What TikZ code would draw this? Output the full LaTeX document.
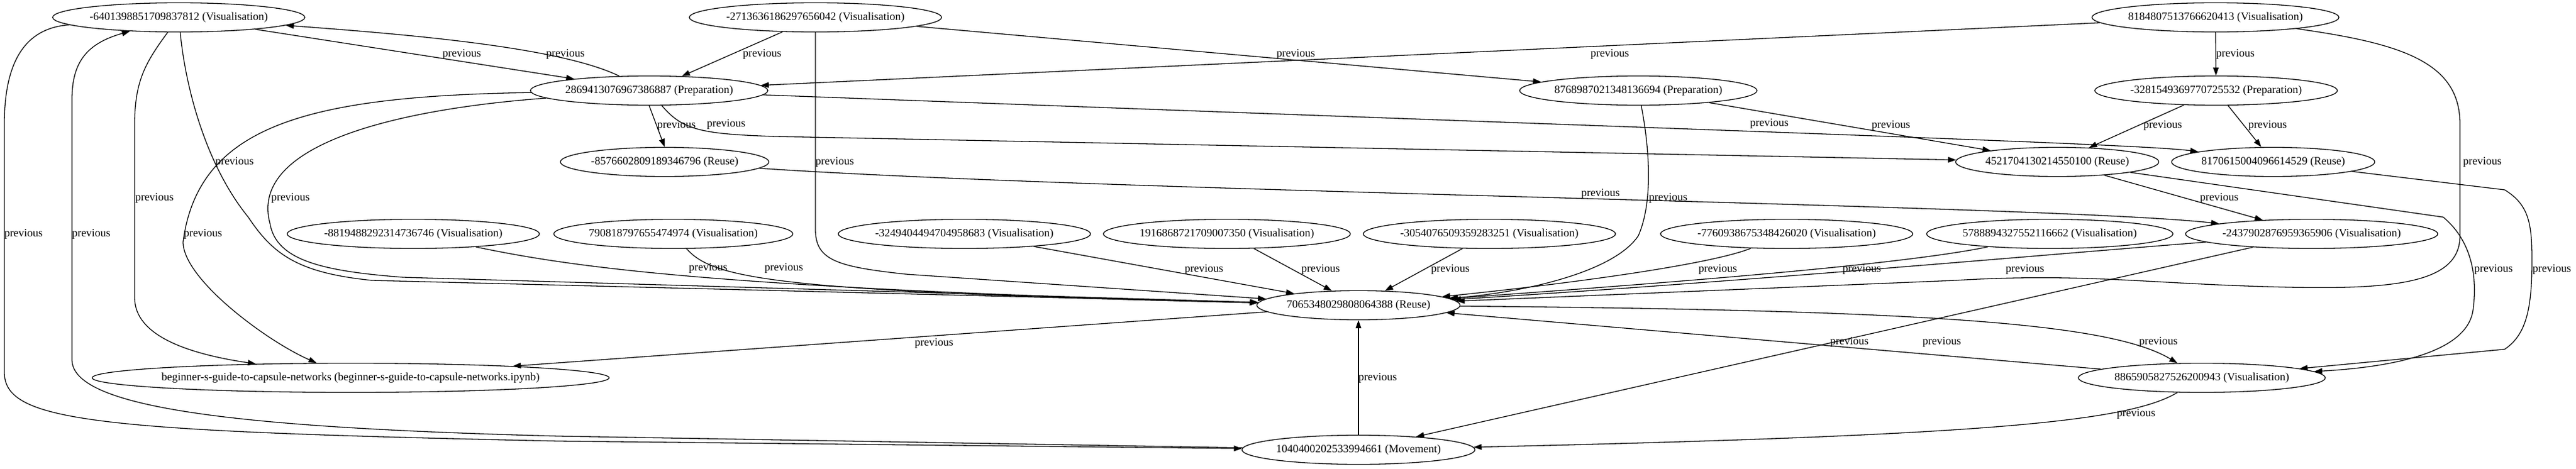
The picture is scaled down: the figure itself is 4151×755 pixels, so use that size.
\documentclass[tikz,border=0pt]{standalone}
\usepackage{fontspec}
\setmainfont{Liberation Serif}
\usetikzlibrary{arrows.meta,shapes.geometric}

\begin{document}
\begin{tikzpicture}[x=1pt,y=1pt,
    ev/.style={ellipse, draw, line width=1.3pt, inner sep=0pt, minimum height=47pt, font=\fontsize{18}{21}\selectfont},
    prev/.style={-{Triangle[length=13pt,width=9pt]}, line width=1.3pt},
    lbl/.style={inner sep=0pt, font=\fontsize{18}{21}\selectfont}]
      \useasboundingbox (0,0) rectangle (4151,-755);

      \node[ev] (n6401) at (288,-28) {-6401398851709837812 (Visualisation)};
      \node[ev] (n2713) at (1314,-28) {-2713636186297656042 (Visualisation)};
      \node[ev] (n8184) at (3570,-28) {8184807513766620413 (Visualisation)};
      \node[ev] (n2869) at (1046,-146) {2869413076967386887 (Preparation)};
      \node[ev] (n8768) at (2640,-146) {8768987021348136694 (Preparation)};
      \node[ev] (n3281) at (3571,-146) {-3281549369770725532 (Preparation)};
      \node[ev] (n8576) at (1071,-261) {-8576602809189346796 (Reuse)};
      \node[ev] (n4521) at (3315,-261) {4521704130214550100 (Reuse)};
      \node[ev] (n8170) at (3663,-261) {8170615004096614529 (Reuse)};
      \node[ev] (n8819) at (666,-377) {-8819488292314736746 (Visualisation)};
      \node[ev] (n7908) at (1085,-377) {790818797655474974 (Visualisation)};
      \node[ev] (n3249) at (1554,-377) {-3249404494704958683 (Visualisation)};
      \node[ev] (n1916) at (1977,-377) {1916868721709007350 (Visualisation)};
      \node[ev] (n3054) at (2400,-377) {-3054076509359283251 (Visualisation)};
      \node[ev] (n7760) at (2879,-377) {-7760938675348426020 (Visualisation)};
      \node[ev] (n5788) at (3303,-377) {5788894327552116662 (Visualisation)};
      \node[ev] (n2437) at (3725,-377) {-2437902876959365906 (Visualisation)};
      \node[ev] (n7065) at (2189,-492) {7065348029808064388 (Reuse)};
      \node[ev, inner xsep=-10pt] (nguide) at (565,-609) {beginner-s-guide-to-capsule-networks (beginner-s-guide-to-capsule-networks.ipynb)};
      \node[ev] (n8865) at (3548,-609) {8865905827526200943 (Visualisation)};
      \node[ev] (n1040) at (2189,-725) {1040400202533994661 (Movement)};

      \draw[prev] (n6401) -- (n2869) node[lbl] at (744,-87) {previous};
      \draw[prev] (n2869) .. controls (900,-75) and (650,-55) .. (n6401) node[lbl] at (911,-87) {previous};
      \draw[prev] (n2713) -- (n2869) node[lbl] at (1228,-87) {previous};
      \draw[prev] (n2713) -- (n8768) node[lbl] at (2088,-87) {previous};
      \draw[prev] (n8184) -- (n2869) node[lbl] at (2594,-87) {previous};
      \draw[prev] (n8184) -- (n3281) node[lbl] at (3602,-87) {previous};

      \draw[prev] (n2869.south) -- (n8576.north) node[lbl] at (1090,-202) {previous};
      \draw[prev] (n2869) .. controls (1100,-210) and (1130,-216) .. (1250,-220) -- (n4521) node[lbl] at (1170,-200) {previous};
      \draw[prev] (n2869) .. controls (2800,-212) and (3450,-232) .. (n8170) node[lbl] at (2851,-199) {previous};
      \draw[prev] (n8768) -- (n4521) node[lbl] at (3047,-202) {previous};
      \draw[prev] (n3281) -- (n4521) node[lbl] at (3485,-202) {previous};
      \draw[prev] (n3281) -- (n8170) node[lbl] at (3654,-202) {previous};

      \draw[prev] (n6401) .. controls (300,-150) and (335,-270) .. (400,-350) .. controls (440,-410) and (480,-440) .. (600,-452) -- (n7065) node[lbl] at (378,-261) {previous};
      \draw[prev] (n2713) -- (1314,-370) .. controls (1314,-420) and (1350,-430) .. (1460,-442) -- (n7065) node[lbl] at (1345,-261) {previous};
      \draw[prev] (n8184) .. controls (3870,-70) and (3964,-100) .. (3964,-200) -- (3964,-380) .. controls (3964,-460) and (3850,-468) .. (3650,-462) .. controls (3450,-456) and (3350,-440) .. (3150,-452) -- (n7065) node[lbl] at (4000,-261) {previous};

      \draw[prev] (n6401) .. controls (235,-100) and (217,-130) .. (217,-200) -- (217,-480) .. controls (217,-540) and (300,-570) .. (nguide) node[lbl] at (249,-319) {previous};
      \draw[prev] (n2869) .. controls (650,-175) and (400,-230) .. (435,-360) .. controls (445,-420) and (520,-437) .. (650,-447) -- (n7065) node[lbl] at (468,-319) {previous};
      \draw[prev] (n8576) .. controls (1800,-310) and (3300,-330) .. (n2437) node[lbl] at (2579,-312) {previous};
      \draw[prev] (n8768) .. controls (2660,-250) and (2662,-330) .. (2640,-380) .. controls (2600,-440) and (2450,-472) .. (n7065) node[lbl] at (2688,-319) {previous};
      \draw[prev] (n4521) -- (n2437) node[lbl] at (3576,-319) {previous};

      \draw[prev] (n6401) .. controls (40,-45) and (7,-100) .. (7,-200) -- (7,-600) .. controls (7,-680) and (150,-695) .. (900,-711) -- (n1040) node[lbl] at (38,-377) {previous};
      \draw[prev] (n1040) -- (900,-703) .. controls (400,-690) and (116,-660) .. (116,-580) -- (116,-160) .. controls (116,-100) and (140,-70) .. (n6401) node[lbl] at (147,-377) {previous};
      \draw[prev] (n2869) .. controls (500,-155) and (320,-200) .. (295,-390) .. controls (295,-450) and (430,-550) .. (nguide) node[lbl] at (327,-377) {previous};

      \draw[prev] (n8819) .. controls (920,-430) and (1150,-465) .. (n7065) node[lbl] at (1141,-432) {previous};
      \draw[prev] (n7908) .. controls (1150,-450) and (1250,-470) .. (n7065) node[lbl] at (1263,-432) {previous};
      \draw[prev] (n3249) -- (n7065) node[lbl] at (1940,-434) {previous};
      \draw[prev] (n1916) -- (n7065) node[lbl] at (2128,-434) {previous};
      \draw[prev] (n3054) -- (n7065) node[lbl] at (2337,-434) {previous};
      \draw[prev] (n7760) .. controls (2760,-425) and (2550,-455) .. (n7065) node[lbl] at (2768,-434) {previous};
      \draw[prev] (n5788) .. controls (3050,-430) and (2600,-462) .. (n7065) node[lbl] at (3000,-434) {previous};
      \draw[prev] (n2437) .. controls (3300,-410) and (2800,-455) .. (n7065) node[lbl] at (3263,-434) {previous};
      \draw[prev] (n4521) -- (3937,-350) .. controls (3985,-390) and (3992,-450) .. (3985,-500) .. controls (3975,-570) and (3850,-592) .. (n8865) node[lbl] at (4018,-434) {previous};
      \draw[prev] (n8170) -- (4036,-306) .. controls (4075,-330) and (4080,-360) .. (4080,-420) .. controls (4080,-500) and (4070,-540) .. (4036,-563) -- (n8865) node[lbl] at (4112,-434) {previous};

      \draw[prev] (n7065) -- (nguide) node[lbl] at (1505,-553) {previous};
      \draw[prev] (n8865) -- (n7065) node[lbl] at (2980,-551) {previous};
      \draw[prev] (n2437) -- (n1040) node[lbl] at (3129,-551) {previous};
      \draw[prev] (n7065) .. controls (3100,-500) and (3400,-520) .. (n8865) node[lbl] at (3478,-551) {previous};
      \draw[prev] (n1040) -- (n7065) node[lbl] at (2220,-609) {previous};
      \draw[prev] (n8865) .. controls (3430,-680) and (3200,-702) .. (n1040) node[lbl] at (3442,-667) {previous};
    \end{tikzpicture}
\end{document}
